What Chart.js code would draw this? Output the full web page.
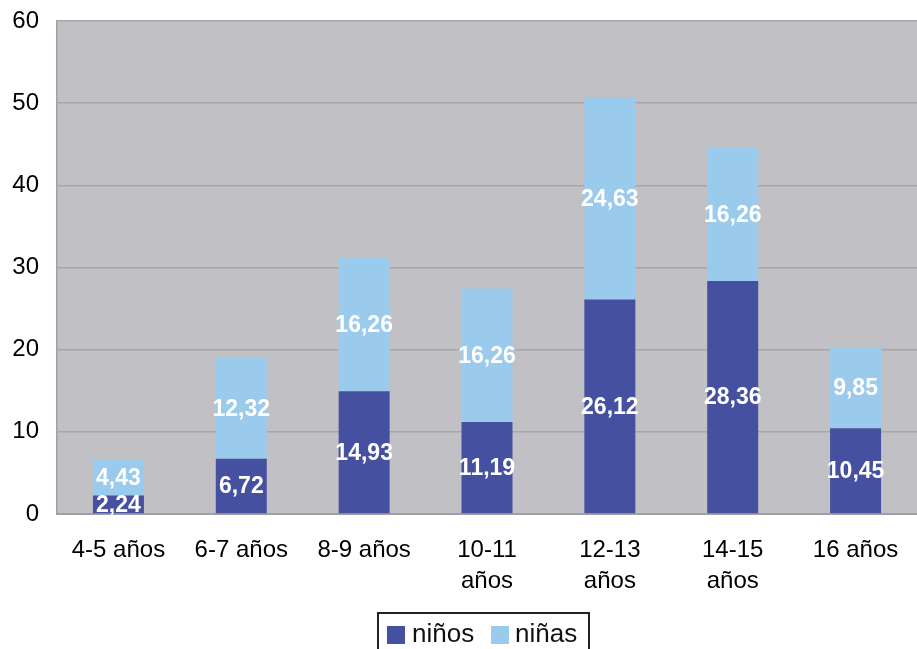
<!DOCTYPE html>
<html>
<head>
<meta charset="utf-8">
<script src="https://cdn.jsdelivr.net/npm/chart.js@4.4.0/dist/chart.umd.min.js"></script>
<style>
  html, body { margin: 0; padding: 0; background: #fff; }
  #wrap { position: relative; width: 917px; height: 649px; overflow: hidden; }
  #legend {
    position: absolute; left: 377px; top: 612px; width: 209px; height: 50px;
    border: 2px solid #222; font-family: "Liberation Sans", Arial, sans-serif;
    font-size: 26px; color: #111;
  }
  #legend span.sw { position: absolute; top: 12px; width: 18px; height: 18px; }
  #legend span.tx { position: absolute; top: 4px; }
</style>
</head>
<body>
<div id="wrap">
  <canvas id="chart" width="917" height="649"></canvas>
  <div id="legend">
    <span class="sw" style="left:8px;background:#4650a0"></span><span class="tx" style="left:33px">niños</span>
    <span class="sw" style="left:112px;background:#9bcbec"></span><span class="tx" style="left:136px">niñas</span>
  </div>
</div>
<script>
const categories = [['4-5 años'], ['6-7 años'], ['8-9 años'], ['10-11', 'años'], ['12-13', 'años'], ['14-15', 'años'], ['16 años']];
const ninos = [2.24, 6.72, 14.93, 11.19, 26.12, 28.36, 10.45];
const ninas = [4.43, 12.32, 16.26, 16.26, 24.63, 16.26, 9.85];
const yTicks = [0, 10, 20, 30, 40, 50, 60];

const FONT = '"Liberation Sans", Arial, sans-serif';

// gray plot background
const plotBg = {
  id: 'plotBg',
  beforeDraw(chart) {
    const { ctx, chartArea: a } = chart;
    ctx.save();
    ctx.fillStyle = '#c1c1c5';
    ctx.fillRect(a.left, a.top, a.right - a.left, a.bottom - a.top);
    ctx.restore();
  }
};

// white values centred in each segment
const valueLabels = {
  id: 'valueLabels',
  afterDatasetsDraw(chart) {
    const ctx = chart.ctx;
    ctx.save();
    ctx.fillStyle = '#fff';
    ctx.font = 'bold 23px ' + FONT;
    ctx.textAlign = 'center';
    ctx.textBaseline = 'middle';
    chart.data.datasets.forEach((ds, i) => {
      chart.getDatasetMeta(i).data.forEach((bar, j) => {
        const txt = ds.data[j].toFixed(2).replace('.', ',');
        ctx.fillText(txt, bar.x, (bar.y + bar.base) / 2 + 1);
      });
    });
    ctx.restore();
  }
};

new Chart(document.getElementById('chart'), {
  type: 'bar',
  data: {
    labels: categories,
    datasets: [
      { label: 'niños', data: ninos, backgroundColor: '#4650a0' },
      { label: 'niñas', data: ninas, backgroundColor: '#9bcbec' }
    ]
  },
  options: {
    responsive: false,
    animation: false,
    layout: { padding: { top: 21, right: 0, left: 0, bottom: 0 } },
    barPercentage: 0.83,
    categoryPercentage: 0.5,
    plugins: { legend: { display: false }, tooltip: { enabled: false } },
    scales: {
      x: {
        stacked: true,
        grid: { display: false, drawTicks: false },
        border: { color: '#a0a0a4', width: 2 },
        ticks: { color: '#000', font: { family: FONT, size: 24, lineHeight: 1.3 }, padding: 21, maxRotation: 0, autoSkip: false },
        afterFit(s) { s.height = 135; s.paddingLeft = 0; s.paddingRight = 0; }
      },
      y: {
        stacked: true,
        min: 0, max: 60,
        afterBuildTicks(s) { s.ticks = yTicks.map(v => ({ value: v })); },
        grid: { color: '#a7a7ab', lineWidth: 1.5, drawTicks: false },
        border: { color: '#a0a0a4', width: 1.5 },
        ticks: { color: '#000', font: { family: FONT, size: 24 }, padding: 18 },
        afterFit(s) { s.width = 57; s.paddingTop = 0; s.paddingBottom = 0; }
      }
    }
  },
  plugins: [plotBg, valueLabels]
});
</script>
</body>
</html>
